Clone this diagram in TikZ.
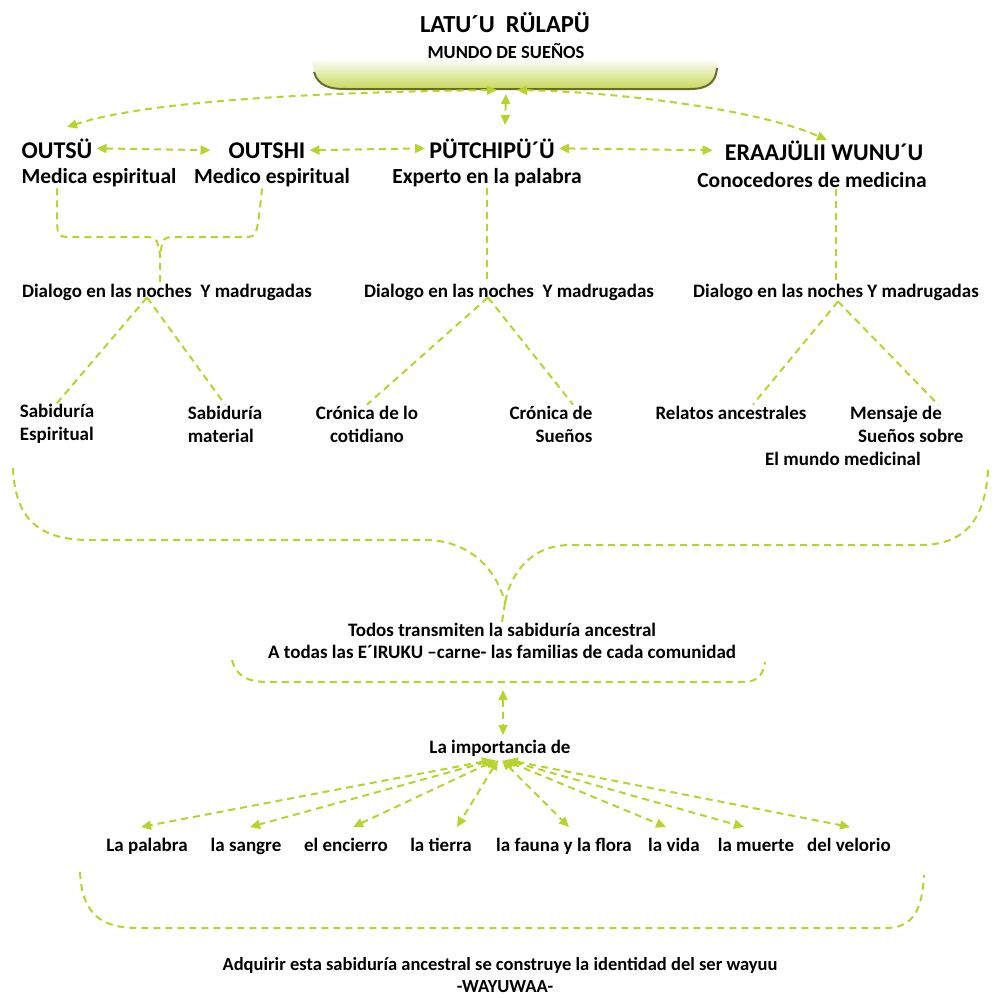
\documentclass[tikz,border=0pt]{standalone}
\usepackage{fontspec}
\setmainfont{Carlito}
\usetikzlibrary{arrows.meta}

\definecolor{linkgreen}{RGB}{182,212,45}
\definecolor{traygreen}{RGB}{200,218,95}
\definecolor{traymid}{RGB}{236,240,212}
\definecolor{trayedge}{RGB}{105,108,38}

\tikzset{
  link/.style={draw=linkgreen, line width=2pt, dash pattern=on 7pt off 5pt},
  biarrow/.style={link, {Triangle[length=10pt,width=9pt]}-{Triangle[length=10pt,width=9pt]}},
  who/.style={font=\bfseries\fontsize{24}{26}\selectfont, inner sep=4pt, anchor=base},
  role/.style={font=\bfseries\fontsize{21.5}{24}\selectfont, inner sep=1pt},
  txt/.style={font=\bfseries\fontsize{19}{23}\selectfont, inner sep=1pt},
  word/.style={txt, anchor=base},
  foot/.style={font=\bfseries\fontsize{18.5}{22}\selectfont, inner sep=1pt},
}

\begin{document}
\begin{tikzpicture}[x=1pt, y=-1pt]
\useasboundingbox (0,0) rectangle (993,998);
\fill[white] (0,0) rectangle (993,998);

% title and tray
\node[font=\bfseries\fontsize{24.5}{26}\selectfont] (title) at (505,23) {LATU´U\ \ RÜLAPÜ};
\node[font=\bfseries\fontsize{18.5}{20}\selectfont] (subtitle) at (506,51) {MUNDO DE SUEÑOS};
\shade[top color=white, middle color=traymid, bottom color=traygreen]
  (312,58) .. controls (313,80) and (322,88) .. (345,88) -- (690,88) .. controls (712,88) and (717,80) .. (717,60) -- cycle;
\draw[trayedge, line width=2pt] (314,72) .. controls (318,86) and (330,89) .. (345,89) -- (690,89) .. controls (708,89) and (716,82) .. (717,68);
\coordinate (trayL) at (497,90);
\coordinate (trayM) at (506,94);
\coordinate (trayR) at (517,90);

\node[who] (outsu) at (57,158) {OUTSÜ};
\node[who] (outshi) at (267,158) {OUTSHI};
\node[who] (putchi) at (492,158) {PÜTCHIPÜ´Ü};
\node[who] (eraa) at (824,160) {ERAAJÜLII WUNU´U};

\node[role] (medica) at (99,178) {Medica espiritual};
\node[role] (medico) at (272,178) {Medico espiritual};
\node[role] (experto) at (487,178) {Experto en la palabra};
\node[role] (conoc) at (812,180) {Conocedores de medicina};

\draw[biarrow] (trayL) .. controls (330,92) and (150,100) .. ([xshift=10pt,yshift=31pt]outsu.base);
\draw[biarrow] (trayM) -- ([xshift=13pt,yshift=33pt]putchi.base);
\draw[biarrow] (trayR) .. controls (620,92) and (760,110) .. ([xshift=3pt,yshift=20pt]eraa.base);

\draw[biarrow] (outsu.east) -- ([xshift=-14pt]outshi.west);
\draw[biarrow] (outshi.east) -- (putchi.west);
\draw[biarrow] (putchi.east) -- ([xshift=-8pt]eraa.west);

\node[txt] (dial1) at (167,292) {Dialogo en las noches\ \ Y madrugadas};
\node[txt] (dial2) at (509,292) {Dialogo en las noches\ \ Y madrugadas};
\node[txt] (dial3) at (836,292) {Dialogo en las noches Y madrugadas};

% the two healers meet
\coordinate (meet) at (160,255);
\draw[link] (outsu.south |- medica.south) -- ++(0,22) .. controls (57,237) .. (72,237) -- (140,237) .. controls (157,237) .. (meet) -- ([xshift=-7pt]dial1.north);
\draw[link] ([xshift=-5pt]outshi.south |- medico.south) .. controls (257,237) .. (245,237) -- (178,237) .. controls (163,237) .. (meet);
\draw[link] (experto.south) -- (experto.south |- dial2.north);
\draw[link] (conoc.south -| dial3.north) -- (dial3.north);

\node[txt, align=left] (sabesp) at (57,424) {Sabiduría\\Espiritual};
\node[txt, align=left] (sabmat) at (225,424) {Sabiduría\\material};
\node[txt, align=center] (croncot) at (367,424) {Crónica de lo\\cotidiano};
\node[txt, align=right] (cronsue) at (551,424) {Crónica de\\Sueños};
\node[txt, anchor=base] (relatos) at (731,419) {Relatos ancestrales};
\node[txt, align=left, anchor=west] (mensaje) at (764,436) {\hspace*{85pt}Mensaje de\\\hspace*{93pt}Sueños sobre\\El mundo medicinal};

\draw[link] ([xshift=-20pt,yshift=4pt]dial1.south) -- (sabesp.north);
\draw[link] ([xshift=-20pt,yshift=4pt]dial1.south) -- (sabmat.north);
\draw[link] ([xshift=-21pt,yshift=4pt]dial2.south) -- (croncot.north);
\draw[link] ([xshift=-21pt,yshift=4pt]dial2.south) -- ([xshift=22pt]cronsue.north);
\draw[link] ([xshift=2pt]dial3.south) -- ([xshift=22pt]relatos.north);
\draw[link] ([xshift=2pt]dial3.south) -- ([xshift=-26pt]mensaje.north east);

% big brace
\coordinate (braceL) at (13,468);
\coordinate (braceR) at (988,470);
\coordinate (tip) at (505,603);
\draw[link] (braceL) .. controls (15,520) and (40,540) .. (90,540) -- (425,540) .. controls (470,540) and (497,570) .. (tip);
\draw[link] (braceR) .. controls (985,525) and (960,545) .. (920,545) -- (570,545) .. controls (530,545) and (510,575) .. (tip);

\node[txt, align=center, font=\bfseries\fontsize{19}{22}\selectfont] (todos) at (502,641) {Todos transmiten la sabiduría ancestral\\A todas las E´IRUKU –carne- las familias de cada comunidad};
\draw[link] (tip) -- (todos.north);
\draw[link] (232,660) .. controls (236,676) and (248,682) .. (268,682) -- (742,682) .. controls (758,682) and (763,675) .. (765,662);

\node[txt] (imp) at (500,748) {La importancia de};
\draw[biarrow] (503,690) -- ([xshift=3pt,yshift=13pt]imp.center);

\node[word] (w1) at (147,851) {La palabra};
\node[word] (w2) at (246,851) {la sangre};
\node[word] (w3) at (346,851) {el encierro};
\node[word] (w4) at (441,851) {la tierra};
\node[word] (w5) at (564,851) {la fauna y la flora};
\node[word] (w6) at (674,851) {la vida};
\node[word] (w7) at (756,851) {la muerte};
\node[word] (w8) at (849,851) {del velorio};

\draw[biarrow] ([xshift=-8pt,yshift=-12pt]imp.center) -- ([xshift=-6pt,yshift=24pt]w1.base);
\draw[biarrow] ([xshift=-6pt,yshift=-12pt]imp.center) -- ([xshift=4pt,yshift=24pt]w2.base);
\draw[biarrow] ([xshift=-4pt,yshift=-12pt]imp.center) -- ([xshift=7pt,yshift=24pt]w3.base);
\draw[biarrow] ([xshift=-2pt,yshift=-12pt]imp.center) -- ([xshift=16pt,yshift=24pt]w4.base);
\draw[biarrow] ([xshift=2pt,yshift=-12pt]imp.center) -- ([xshift=5pt,yshift=24pt]w5.base);
\draw[biarrow] ([xshift=4pt,yshift=-12pt]imp.center) -- ([xshift=-8pt,yshift=24pt]w6.base);
\draw[biarrow] ([xshift=6pt,yshift=-12pt]imp.center) -- ([xshift=-12pt,yshift=24pt]w7.base);
\draw[biarrow] ([xshift=8pt,yshift=-12pt]imp.center) -- ([xshift=1pt,yshift=24pt]w8.base);

% bottom brace
\draw[link] (80,872) .. controls (82,915) and (102,928) .. (138,928) -- (885,928) .. controls (910,928) and (922,915) .. (924,875);

\node[foot] (adq) at (500,965) {Adquirir esta sabiduría ancestral se construye la identidad del ser wayuu};
\node[foot] (wayuu) at (505,987) {-WAYUWAA-};
\end{tikzpicture}
\end{document}
